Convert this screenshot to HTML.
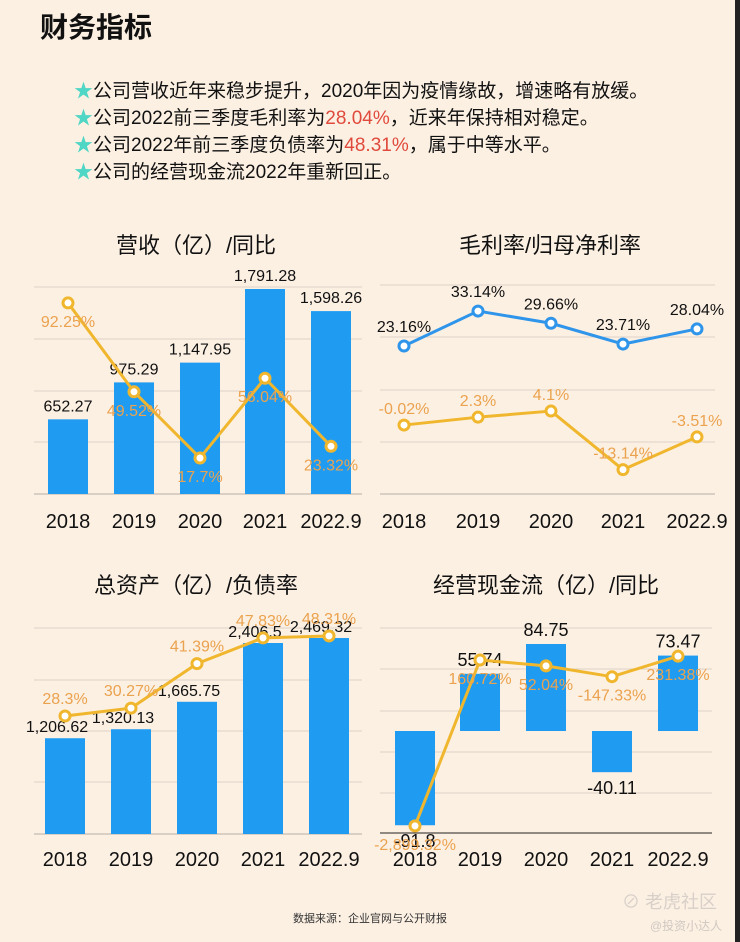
<!DOCTYPE html>
<html><head><meta charset="utf-8">
<style>
html,body{margin:0;padding:0;}
body{width:740px;height:942px;background:#fcf0e3;position:relative;overflow:hidden;font-family:"Liberation Sans","Noto Sans CJK SC",sans-serif;}
.edge{position:absolute;right:0;top:0;width:5px;height:942px;background:#222;}
h1{position:absolute;left:40px;top:6px;margin:0;font-size:28px;font-weight:bold;color:#111;}
.bul{position:absolute;left:74px;font-size:19px;color:#111;white-space:nowrap;}
.bul b{color:#4fd6c4;font-weight:normal;}
.bul i{color:#e04a3c;font-style:normal;}
svg{position:absolute;left:0;top:0;}
.src{position:absolute;left:0;width:740px;top:910px;text-align:center;font-size:11px;color:#333;}
.wm{position:absolute;left:622px;top:888px;font-size:18px;color:#d8d0c8;}
.wm2{position:absolute;left:650px;top:917px;font-size:12px;color:#d0c8c0;}
</style></head>
<body>
<div class="edge"></div>
<h1>财务指标</h1>
<div class="bul" style="top:76px"><b>★</b>公司营收近年来稳步提升，2020年因为疫情缘故，增速略有放缓。</div>
<div class="bul" style="top:103px"><b>★</b>公司2022前三季度毛利率为<i>28.04%</i>，近来年保持相对稳定。</div>
<div class="bul" style="top:130px"><b>★</b>公司2022年前三季度负债率为<i>48.31%</i>，属于中等水平。</div>
<div class="bul" style="top:157px"><b>★</b>公司的经营现金流2022年重新回正。</div>
<svg id="chart" width="740" height="942"></svg>
<div class="src">数据来源：企业官网与公开财报</div>
<div class="wm">⊘ 老虎社区</div>
<div class="wm2">@投资小达人</div>
<script>
const years = ["2018","2019","2020","2021","2022.9"];
const revenue = [652.27, 975.29, 1147.95, 1791.28, 1598.26];
const revenueYoY = [92.25, 49.52, 17.7, 56.04, 23.32];
const grossMargin = [23.16, 33.14, 29.66, 23.71, 28.04];
const netMargin = [-0.02, 2.3, 4.1, -13.14, -3.51];
const assets = [1206.62, 1320.13, 1665.75, 2406.5, 2469.32];
const debtRatio = [28.3, 30.27, 41.39, 47.83, 48.31];
const cashflow = [-91.8, 55.74, 84.75, -40.11, 73.47];
const cashflowYoY = [-2899.32, 160.72, 52.04, -147.33, 231.38];

const NS="http://www.w3.org/2000/svg";
const svg=document.getElementById('chart');
const BLUE="#1f9cf2", GOLD="#f0b72e", ORANGE="#eba24e";
function mk(tag,attrs,name){const e=document.createElementNS(NS,tag);for(const k in attrs)e.setAttribute(k,attrs[k]);


svg.appendChild(e);return e;}
function txt(x,y,s,size,fill,name,anchor){const t=mk('text',{x:x,y:y,'font-size':size,fill:fill,'text-anchor':anchor||'middle','font-family':'"Liberation Sans","Noto Sans CJK SC",sans-serif'},name);t.textContent=s;return t;}
function fmt(v){return v.toLocaleString('en-US',{maximumFractionDigits:2});}
function grid(x1,x2,ys,base,baseColor){ys.forEach(y=>mk('line',{x1:x1,x2:x2,y1:y,y2:y,stroke:'#ddd2c6','stroke-width':1},'gridline'));
 if(base!=null)mk('line',{x1:x1,x2:x2,y1:base,y2:base,stroke:baseColor||'#b8aea4','stroke-width':1},'x-axis-line');}
function line(xs,ys,color,name){mk('polyline',{points:xs.map((x,i)=>x+','+ys[i]).join(' '),fill:'none',stroke:color,'stroke-width':3,'stroke-linejoin':'round'},name);
 xs.forEach((x,i)=>mk('circle',{cx:x,cy:ys[i],r:5,fill:'#fff',stroke:color,'stroke-width':3},name+'-point'));}
function xlabels(xs,y){xs.forEach((x,i)=>txt(x,y,years[i],20,'#111','x-tick-label'));}

// Chart 1
{const xs=[68,134,200,265,331], base=494, k=205/1791.28;
 txt(196,253,'营收（亿）/同比',22,'#111','chart1-title');
 grid(34,362,[287,339,391,442],base);
 const yV=v=>base-v*k, yP=v=>494.8-2.08*v;
 revenue.forEach((v,i)=>{mk('rect',{x:xs[i]-20,y:yV(v),width:40,height:v*k,fill:BLUE},'revenue-bar');txt(xs[i],yV(v)-8,fmt(v),16,'#111','revenue-value');});
 line(xs,revenueYoY.map(yP),GOLD,'revenue-yoy-line');
 revenueYoY.forEach((v,i)=>txt(xs[i],yP(v)+24,v+'%',16,ORANGE,'revenue-yoy-label'));
 xlabels(xs,528);}
// Chart 2
{const xs=[404,478,551,623,697], base=494;
 txt(550,253,'毛利率/归母净利率',22,'#111','chart2-title');
 grid(380,715,[285,337,390,442],base);
 const yG=v=>346+(23.16-v)*3.5, yN=v=>425-v*3.4;
 line(xs,grossMargin.map(yG),"#2f95ea",'gross-margin-line');
 grossMargin.forEach((v,i)=>txt(xs[i],yG(v)-14,v+'%',16,'#111','gross-margin-label'));
 line(xs,netMargin.map(yN),GOLD,'net-margin-line');
 netMargin.forEach((v,i)=>txt(xs[i],yN(v)-11,v+'%',16,ORANGE,'net-margin-label'));
 xlabels(xs,528);}
// Chart 3
{const xs=[65,131,197,263,329], base=834, k=191/2406.5;
 txt(196,593,'总资产（亿）/负债率',22,'#111','chart3-title');
 grid(34,362,[628,680,731,782],base);
 const yV=v=>base-v*k, yP=v=>716-(v-28.3)*4;
 assets.forEach((v,i)=>{mk('rect',{x:xs[i]-20,y:yV(v),width:40,height:v*k,fill:BLUE},'assets-bar');txt(xs[i]-8,yV(v)-6,fmt(v),16,'#111','assets-value');});
 line(xs,debtRatio.map(yP),GOLD,'debt-ratio-line');
 debtRatio.forEach((v,i)=>txt(xs[i],yP(v)-12,v+'%',16,ORANGE,'debt-ratio-label'));
 xlabels(xs,866);}
// Chart 4
{const xs=[415,480,546,612,678], zero=731, k=87/84.75;
 txt(546,593,'经营现金流（亿）/同比',22,'#111','chart4-title');
 grid(380,712,[628,669,711,752,793],833,'#222');
 const yV=v=>zero-v*k, yP=v=>660-(v-160.72)*0.0542;
 cashflow.forEach((v,i)=>{const y=Math.min(zero,yV(v)),h=Math.abs(v*k);
  mk('rect',{x:xs[i]-20,y:y,width:40,height:h,fill:BLUE},'cashflow-bar');
  txt(xs[i],v>=0?yV(v)-8:yV(v)+22,fmt(v),18,'#111','cashflow-value');});
 line(xs,cashflowYoY.map(yP),GOLD,'cashflow-yoy-line');
 cashflowYoY.forEach((v,i)=>txt(xs[i],yP(v)+24,fmt(v)+'%',16,ORANGE,'cashflow-yoy-label'));
 xlabels(xs,866);}
</script>
</body></html>
